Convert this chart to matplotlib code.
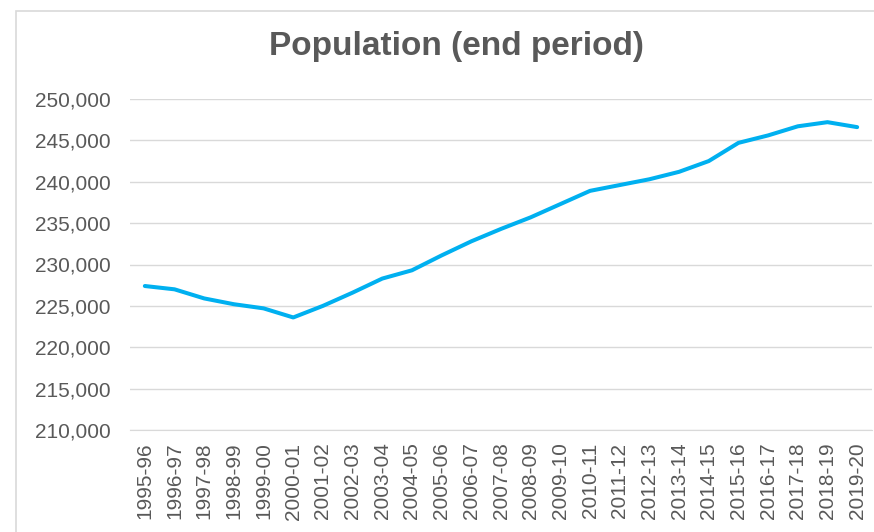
import matplotlib
matplotlib.use("Agg")
import matplotlib.pyplot as plt
from matplotlib.patches import Rectangle
from matplotlib.ticker import FuncFormatter

# Population en fin de période
periods = [
    "1995-96", "1996-97", "1997-98", "1998-99", "1999-00", "2000-01",
    "2001-02", "2002-03", "2003-04", "2004-05", "2005-06", "2006-07",
    "2007-08", "2008-09", "2009-10", "2010-11", "2011-12", "2012-13",
    "2013-14", "2014-15", "2015-16", "2016-17", "2017-18", "2018-19",
    "2019-20",
]
population = [
    227400, 227000, 225900, 225200, 224700, 223600,
    225000, 226600, 228300, 229300, 231100, 232800,
    234300, 235700, 237300, 238900, 239600, 240300,
    241200, 242500, 244700, 245600, 246700, 247200,
    246600,
]
y_ticks = list(range(210000, 250001, 5000))

plt.rcParams["font.family"] = ["Liberation Sans", "DejaVu Sans"]
grey = "#595959"
grid = "#D9D9D9"

fig = plt.figure(figsize=(8.74, 5.32), dpi=100)
ax = fig.add_axes([130 / 874, 1 - 430 / 532, 742 / 874, 331 / 532])

x = range(len(periods))
ax.plot(x, population, color="#00B0F0", lw=2.9, solid_capstyle="round",
        solid_joinstyle="round", zorder=3)

ax.set_xlim(-0.5, len(periods) - 0.5)
ax.set_ylim(y_ticks[0], y_ticks[-1])
ax.set_yticks(y_ticks)
ax.yaxis.set_major_formatter(FuncFormatter(lambda v, _: f"{int(v):,}"))
ax.set_xticks(list(x))
ax.set_xticklabels(periods, rotation=90)

ax.grid(axis="y", color=grid, lw=1)
ax.set_axisbelow(True)
for side in ["top", "right", "left"]:
    ax.spines[side].set_visible(False)
ax.spines["bottom"].set_color(grid)
ax.tick_params(axis="y", length=0, pad=14, labelsize=15, labelcolor=grey)
ax.tick_params(axis="x", length=0, pad=9, labelsize=15, labelcolor=grey)

fig.text(456 / 874, 1 - 47 / 532, "Population (end period)", ha="center",
         va="center", fontsize=24, fontweight="bold", color=grey)

# cadre de la zone graphique (coupé à droite et en bas)
fig.patches.append(Rectangle((16 / 874, -0.1), 1.2, 1.1 - 11 / 532,
                             transform=fig.transFigure, fill=False,
                             edgecolor=grid, lw=1.2))

fig.savefig("out.png", dpi=100)
